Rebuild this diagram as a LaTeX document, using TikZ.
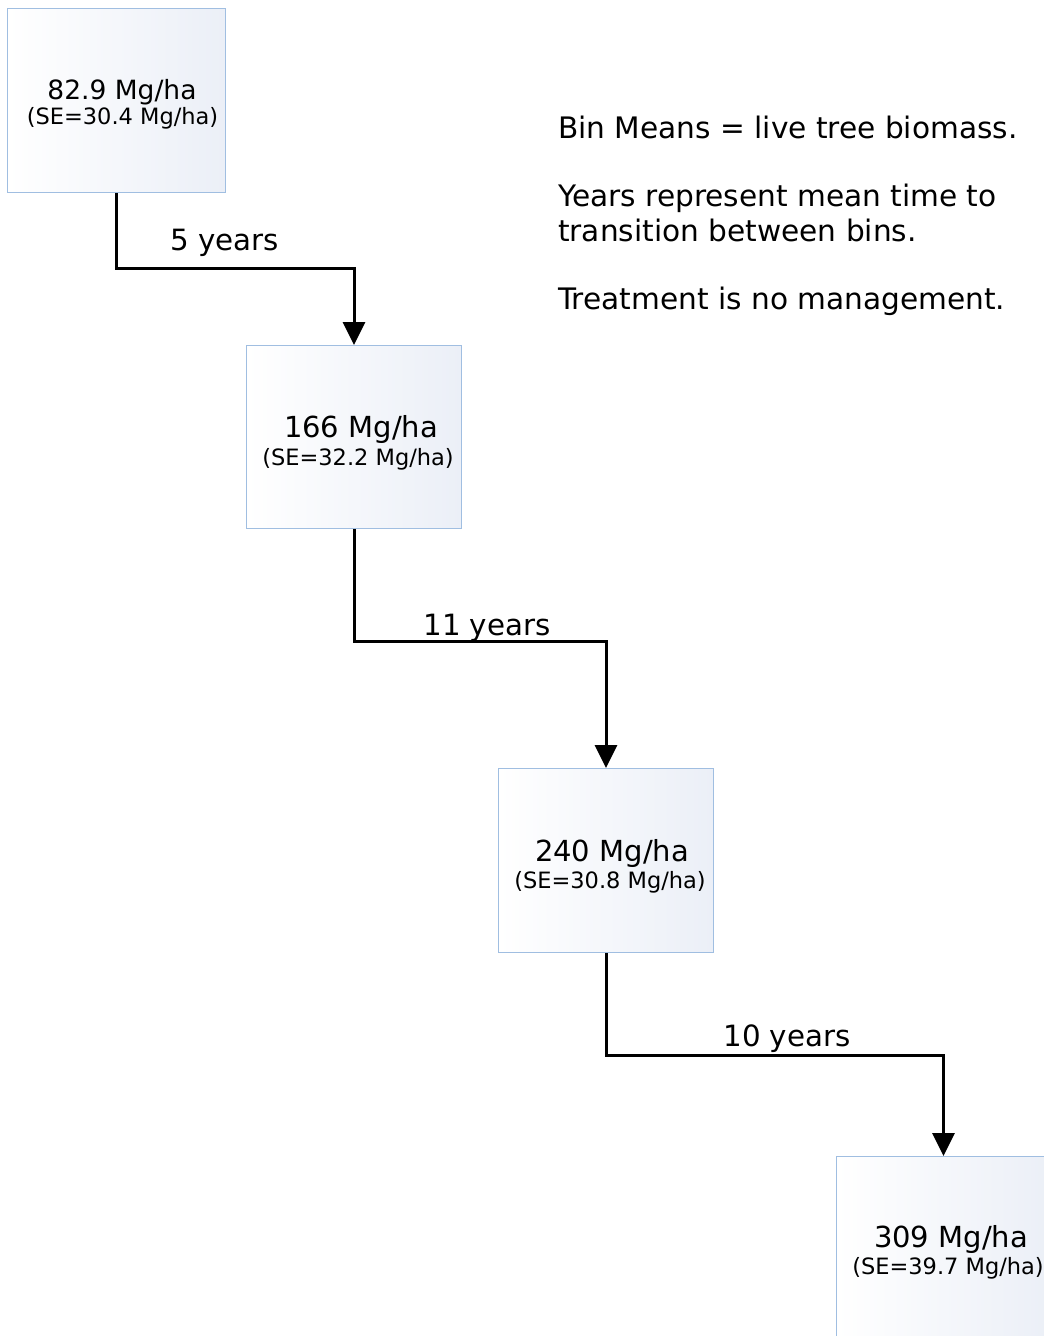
\documentclass[tikz,border=0pt]{standalone}
\usepackage{fontspec}
\setmainfont{DejaVu Sans}
\usetikzlibrary{arrows.meta}
\definecolor{boxedge}{RGB}{160,190,225}
\definecolor{boxright}{RGB}{235,239,247}
\tikzset{
  binbox/.style={draw=boxedge, line width=1pt, left color=white, right color=boxright,
    minimum width=215pt, minimum height=183pt, inner sep=0pt, anchor=north west},
  mainlbl/.style={anchor=base, inner sep=0pt, font=\fontsize{29}{34}\selectfont},
  mainlblsm/.style={anchor=base, inner sep=0pt, font=\fontsize{26.5}{32}\selectfont},
  selbl/.style={anchor=base, inner sep=0pt, font=\fontsize{22.5}{27}\selectfont},
  yrlbl/.style={anchor=base, inner sep=0pt, font=\fontsize{29.3}{34}\selectfont},
  notelbl/.style={anchor=base west, inner sep=0pt, font=\fontsize{29.6}{35}\selectfont},
  flow/.style={line width=3pt, -{Triangle[length=23pt,width=22pt]}},
}
\begin{document}
\begin{tikzpicture}[x=1pt,y=-1pt]
\useasboundingbox (0,0) rectangle (1044,1336);
% boxes
\node[binbox, minimum width=218pt, minimum height=184pt] (b1) at (7,8) {};
\node[binbox, minimum height=183pt] (b2) at (246,345) {};
\node[binbox, minimum height=184pt] (b3) at (498,768) {};
\node[binbox, minimum width=214pt, minimum height=200pt] (b4) at (836,1156) {};
% box texts
\node[mainlblsm] (t1) at (122,99) {82.9 Mg/ha};
\node[selbl] (s1) at (122.5,124) {(SE=30.4 Mg/ha)};
\node[mainlbl] (t2) at (361,437) {166 Mg/ha};
\node[selbl] (s2) at (358,465) {(SE=32.2 Mg/ha)};
\node[mainlbl] (t3) at (612,861) {240 Mg/ha};
\node[selbl] (s3) at (610,888) {(SE=30.8 Mg/ha)};
\node[mainlbl] (t4) at (951,1247) {309 Mg/ha};
\node[selbl] (s4) at (948,1274) {(SE=39.7 Mg/ha)};
% connectors
\draw[flow] (b1.south) -- ++(0,75) -| (b2.north);
\draw[flow] (b2.south) -- ++(0,112) -| (b3.north);
\draw[flow] (b3.south) -- ++(0,102) -| (b4.north);
% year labels
\node[yrlbl] (y1) at (225,250) {5 years};
\node[yrlbl] (y2) at (487,635) {11 years};
\node[yrlbl] (y3) at (787,1046) {10 years};
% notes
\node[notelbl] (n1) at (558,138) {Bin Means = live tree biomass.};
\node[notelbl] (n2) at (558,206) {Years represent mean time to};
\node[notelbl] (n3) at (558,241) {transition between bins.};
\node[notelbl] (n4) at (558,309) {Treatment is no management.};
\end{tikzpicture}
\end{document}
